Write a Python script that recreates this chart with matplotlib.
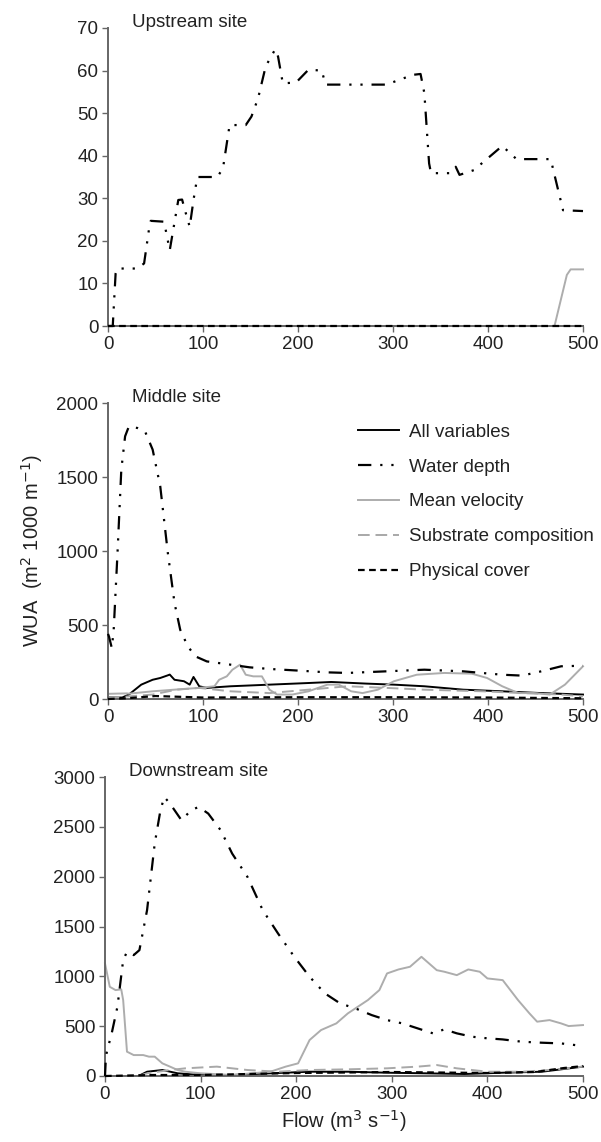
import matplotlib
matplotlib.use("Agg")
import matplotlib.pyplot as plt

plt.rcParams['font.family'] = ['Liberation Sans', 'DejaVu Sans']

# ---- Upstream site ----
up_depth_x = [0, 5, 8, 10, 31, 38, 43, 45, 59, 65, 74, 78, 81, 86, 90, 94, 115, 121, 128, 145,
              151, 158, 166, 176, 179, 184, 198, 211, 225, 229, 293, 321, 329, 333, 338, 340,
              360, 366, 370, 385, 415, 430, 466, 473, 479, 500]
up_depth_y = [0, 0, 12.3, 13.5, 13.5, 14.7, 22.5, 24.7, 24.5, 17.8, 29.6, 29.7, 27.2, 23.3, 29.6,
              35, 35, 37, 47.2, 47.2, 49.2, 53.5, 61, 65, 63.3, 57, 57.2, 60.2, 60, 56.7, 56.7,
              59, 59.2, 54.7, 38.2, 35.9, 35.9, 37.4, 35.5, 36.6, 42.3, 39.2, 39.2, 32.7, 27.2, 27]
up_vel_x = [0, 470, 483, 487, 500]
up_vel_y = [0, 0, 12.0, 13.3, 13.3]
up_zero_x = [0, 500]
up_zero_y = [0, 0]

# ---- Middle site ----
mid_depth_x = [0, 1, 4, 6, 10, 14, 18, 22, 31, 39, 47, 55, 63, 70, 76, 84, 92, 104, 129, 149,
               170, 203, 231, 252, 293, 333, 374, 415, 436, 456, 477, 500]
mid_depth_y = [440, 423, 345, 468, 986, 1550, 1775, 1842, 1831, 1808, 1685, 1437, 986, 649, 468,
               356, 288, 254, 232, 214, 203, 191, 180, 176, 187, 198, 187, 164, 158, 187, 221, 225]
mid_all_x = [0, 15, 22, 35, 47, 55, 63, 65, 70, 80, 86, 90, 96, 104, 129, 170, 211, 235, 272,
             301, 333, 374, 415, 456, 500]
mid_all_y = [10, 10, 30, 97, 130, 142, 160, 165, 130, 120, 97, 149, 86, 75, 86, 97, 108, 115,
             104, 97, 86, 63, 52, 40, 30]
mid_vel_x = [0, 20, 22, 47, 80, 96, 112, 117, 125, 131, 139, 145, 153, 162, 170, 178, 194, 211,
             231, 243, 256, 268, 284, 301, 325, 354, 383, 399, 415, 432, 448, 465, 481, 500]
mid_vel_y = [35, 38, 36, 52, 68, 75, 86, 130, 153, 198, 232, 164, 153, 153, 63, 30, 30, 52, 97,
             97, 52, 40, 63, 120, 164, 176, 171, 142, 86, 40, 40, 30, 97, 221]
mid_sub_x = [0, 47, 72, 96, 129, 170, 211, 252, 293, 333, 395, 436, 477, 500]
mid_sub_y = [7, 30, 63, 75, 52, 40, 63, 86, 75, 63, 52, 40, 30, 18]
mid_cov_x = [0, 20, 50, 100, 200, 300, 400, 500]
mid_cov_y = [0, 5, 20, 10, 12, 12, 10, 5]

# ---- Downstream site ----
down_depth_x = [0, 1, 2.4, 7, 13, 19, 23, 30, 36, 44, 52, 58, 62, 68, 80, 90, 98, 108, 121, 133,
                149, 165, 181, 198, 214, 230, 246, 262, 279, 295, 311, 327, 343, 355, 368, 384,
                400, 416, 436, 457, 477, 500]
down_depth_y = [0, 200, 260, 428, 695, 1163, 1246, 1213, 1263, 1664, 2332, 2666, 2800, 2733, 2566,
                2666, 2700, 2633, 2466, 2232, 1998, 1664, 1430, 1196, 996, 829, 728, 678, 611,
                561, 528, 478, 428, 468, 428, 394, 378, 367, 344, 334, 327, 301]
down_vel_x = [0, 5, 11, 17, 19, 23, 30, 40, 46, 52, 60, 68, 76, 84, 100, 133, 173, 189, 202, 214,
              226, 242, 254, 275, 287, 295, 307, 319, 331, 339, 347, 355, 368, 380, 392, 400,
              416, 432, 444, 452, 465, 477, 485, 500]
down_vel_y = [1129, 895, 862, 869, 762, 244, 210, 210, 194, 194, 127, 94, 60, 43, 27, 10, 43, 94,
              127, 361, 461, 528, 628, 762, 862, 1029, 1069, 1096, 1196, 1129, 1062, 1046, 1012,
              1069, 1046, 979, 962, 762, 628, 545, 561, 528, 501, 511]
down_sub_x = [0, 35, 44, 68, 84, 117, 149, 181, 214, 254, 295, 327, 347, 368, 400, 436, 465, 500]
down_sub_y = [0, 0, 27, 60, 77, 94, 60, 43, 60, 67, 77, 94, 110, 77, 43, 43, 60, 94]
down_all_x = [0, 35, 44, 60, 76, 100, 133, 173, 214, 254, 295, 335, 376, 416, 457, 500]
down_all_y = [0, 0, 43, 60, 27, 10, 10, 27, 43, 43, 33, 27, 20, 33, 43, 94]
down_cov_x = [0, 50, 100, 200, 300, 400, 450, 480, 500]
down_cov_y = [0, 10, 10, 30, 40, 30, 40, 80, 100]

labels = ["All variables", "Water depth", "Mean velocity", "Substrate composition", "Physical cover"]

DEPTH = dict(color='black', lw=1.6, ls=(0, (6, 4, 1, 4, 1, 4)), clip_on=False, zorder=3)
ALL = dict(color='black', lw=1.4, ls='-', clip_on=False, zorder=2)
VEL = dict(color='#adadad', lw=1.4, ls='-', clip_on=False, zorder=2)
SUB = dict(color='#a8a8a8', lw=1.4, ls=(0, (6, 3)), clip_on=False, zorder=2)
COV = dict(color='black', lw=1.6, ls=(0, (3, 2)), clip_on=False, zorder=3)

fig = plt.figure(figsize=(6.01, 11.42), dpi=100)
ax1 = fig.add_axes([108 / 601, 1 - 326 / 1142, (583 - 108) / 601, (326 - 28) / 1142])
ax2 = fig.add_axes([108 / 601, 1 - 699 / 1142, (583 - 108) / 601, (699 - 403) / 1142])
ax3 = fig.add_axes([105 / 601, 1 - 1076 / 1142, (583 - 105) / 601, (1076 - 777) / 1142])


def style(ax, ymax, ystep):
    for s in ['top', 'right']:
        ax.spines[s].set_visible(False)
    for s in ['left', 'bottom']:
        ax.spines[s].set_color('#666666')
        ax.spines[s].set_linewidth(1.4)
    ax.set_xlim(0, 500)
    ax.set_ylim(0, ymax)
    ax.set_xticks(range(0, 501, 100))
    ax.set_yticks(range(0, ymax + 1, ystep))
    ax.tick_params(direction='out', length=4, width=1.0, color='#666666',
                   labelsize=13.5, labelcolor='#222222', pad=3)


# upstream
ax1.plot(up_zero_x, up_zero_y, **ALL)
ax1.plot(up_depth_x, up_depth_y, **DEPTH)
ax1.plot(up_vel_x, up_vel_y, **VEL)
ax1.plot(up_zero_x, up_zero_y, **SUB)
ax1.plot(up_zero_x, up_zero_y, **COV)
style(ax1, 70, 10)
ax1.text(0.05, 1.02, "Upstream site", transform=ax1.transAxes, fontsize=13.5,
         color='#222222', va='center', ha='left')

# middle
h = []
h += ax2.plot(mid_all_x, mid_all_y, **ALL)
h += ax2.plot(mid_depth_x, mid_depth_y, **DEPTH)
h += ax2.plot(mid_vel_x, mid_vel_y, **VEL)
h += ax2.plot(mid_sub_x, mid_sub_y, **SUB)
h += ax2.plot(mid_cov_x, mid_cov_y, **COV)
style(ax2, 2000, 500)
ax2.text(0.05, 1.02, "Middle site", transform=ax2.transAxes, fontsize=13.5,
         color='#222222', va='center', ha='left')
ax2.set_ylabel("WUA  (m$^2$ 1000 m$^{-1}$)", fontsize=14.5, color='#222222', labelpad=8)
leg = ax2.legend(h, labels, loc='upper left', bbox_to_anchor=(350 / 601, 1 - 416 / 1142),
                 bbox_transform=fig.transFigure, frameon=False, fontsize=13.5,
                 handlelength=2.2, handletextpad=0.55, labelspacing=0.95, borderaxespad=0)
for t in leg.get_texts():
    t.set_color('#222222')

# downstream
ax3.plot(down_all_x, down_all_y, **ALL)
ax3.plot(down_depth_x, down_depth_y, **DEPTH)
ax3.plot(down_vel_x, down_vel_y, **VEL)
ax3.plot(down_sub_x, down_sub_y, **SUB)
ax3.plot(down_cov_x, down_cov_y, **COV)
style(ax3, 3000, 500)
ax3.text(0.05, 1.02, "Downstream site", transform=ax3.transAxes, fontsize=13.5,
         color='#222222', va='center', ha='left')
ax3.set_xlabel("Flow (m$^3$ s$^{-1}$)", fontsize=14.5, color='#222222', labelpad=4)

fig.savefig("out.png", dpi=100)
